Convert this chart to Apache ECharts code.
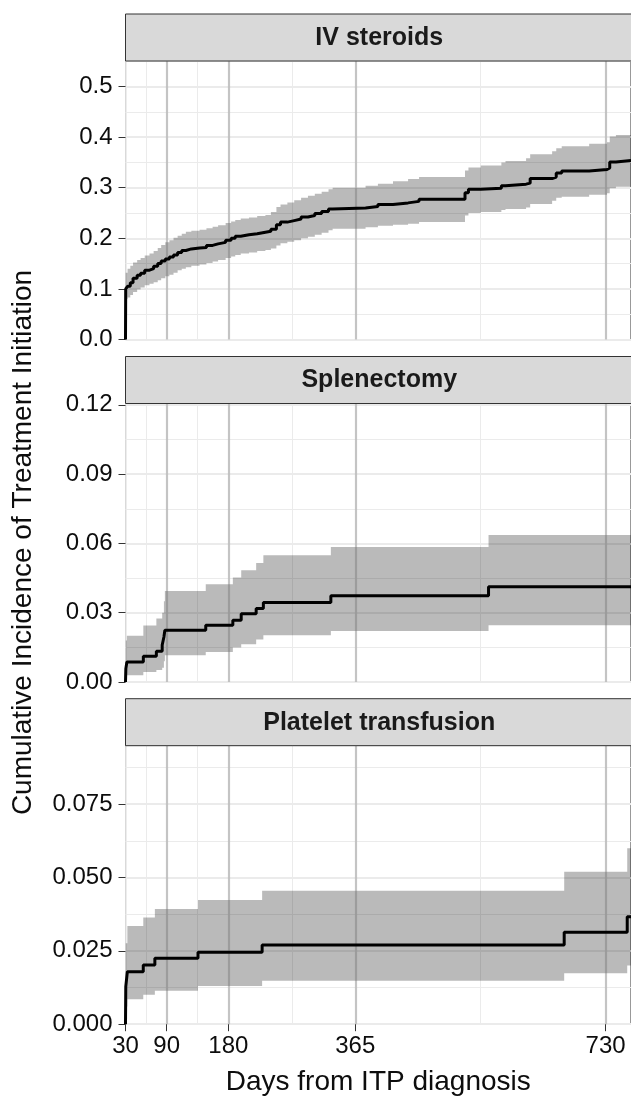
<!DOCTYPE html>
<html><head><meta charset="utf-8">
<script src="https://cdn.jsdelivr.net/npm/echarts@6/dist/echarts.min.js"></script>
<style>html,body{margin:0;padding:0;background:#fff}#c{width:631px;height:1098px}</style>
</head><body><div id="c"></div>
<script>
// ---------- data ----------
const panelTitles = ['IV steroids', 'Splenectomy', 'Platelet transfusion'];
const xBreaks = [30, 90, 180, 365, 730];
const xMinorBreaks = [60, 135, 272.5, 547.5];
const vlineDays = [90, 180, 365, 730];

const yBreaksIV = [0, 0.1, 0.2, 0.3, 0.4, 0.5];
const yMinorIV = [0.05, 0.15, 0.25, 0.35, 0.45, 0.55];
const yBreaksSp = [0, 0.03, 0.06, 0.09, 0.12];
const yMinorSp = [0.015, 0.045, 0.075, 0.105];
const yBreaksPl = [0, 0.025, 0.05, 0.075];
const yMinorPl = [0.0125, 0.0375, 0.0625, 0.0875];

// IV steroids
const ivDays = [30, 30.3, 33, 37, 41, 47, 52, 58, 65, 71, 77, 82, 88, 94, 100, 106, 112, 118, 126, 138, 148, 157, 165, 176, 184, 190, 198, 210, 222, 234, 242, 250, 256, 266, 276, 286, 296, 306, 316, 326, 332, 380, 398, 420, 442, 458, 525, 530, 548, 578, 584, 614, 620, 652, 658, 666, 706, 732, 736, 745, 767];
const ivEst = [0, 0.100, 0.105, 0.112, 0.121, 0.127, 0.131, 0.137, 0.140, 0.145, 0.150, 0.155, 0.159, 0.163, 0.167, 0.172, 0.176, 0.179, 0.181, 0.182, 0.186, 0.189, 0.192, 0.196, 0.200, 0.204, 0.207, 0.209, 0.212, 0.214, 0.218, 0.227, 0.232, 0.235, 0.238, 0.242, 0.245, 0.249, 0.253, 0.258, 0.260, 0.263, 0.267, 0.270, 0.273, 0.277, 0.290, 0.297, 0.299, 0.304, 0.307, 0.309, 0.318, 0.321, 0.329, 0.333, 0.336, 0.339, 0.351, 0.354, 0.354];
const ivLo = [0, 0.080, 0.083, 0.088, 0.094, 0.099, 0.103, 0.107, 0.110, 0.113, 0.117, 0.121, 0.125, 0.128, 0.132, 0.137, 0.140, 0.143, 0.146, 0.148, 0.151, 0.154, 0.157, 0.161, 0.164, 0.167, 0.170, 0.172, 0.175, 0.177, 0.180, 0.186, 0.190, 0.193, 0.196, 0.200, 0.203, 0.207, 0.211, 0.216, 0.219, 0.222, 0.225, 0.227, 0.229, 0.232, 0.245, 0.250, 0.252, 0.256, 0.258, 0.261, 0.268, 0.274, 0.280, 0.282, 0.286, 0.289, 0.299, 0.302, 0.302];
const ivHi = [0, 0.132, 0.140, 0.146, 0.152, 0.157, 0.161, 0.166, 0.170, 0.175, 0.181, 0.187, 0.192, 0.196, 0.201, 0.205, 0.209, 0.213, 0.215, 0.217, 0.220, 0.223, 0.226, 0.230, 0.233, 0.236, 0.239, 0.241, 0.244, 0.246, 0.252, 0.262, 0.267, 0.271, 0.275, 0.280, 0.284, 0.288, 0.292, 0.297, 0.300, 0.304, 0.308, 0.313, 0.317, 0.321, 0.334, 0.340, 0.344, 0.350, 0.353, 0.358, 0.366, 0.372, 0.378, 0.382, 0.387, 0.390, 0.401, 0.404, 0.404];

// Splenectomy
const spDays = [30, 30.5, 32, 56, 75, 83.5, 86, 87.4, 147, 186.5, 198.7, 220.5, 231, 329.4, 559.3, 767];
const spEst = [0, 0.0058, 0.0087, 0.0111, 0.0133, 0.0160, 0.0195, 0.0224, 0.0246, 0.0267, 0.0296, 0.0318, 0.0344, 0.0373, 0.0412, 0.0412];
const spLo = [0, 0.0025, 0.0029, 0.0043, 0.0052, 0.0062, 0.0090, 0.0116, 0.0130, 0.0149, 0.0163, 0.0184, 0.0202, 0.0221, 0.0246, 0.0246];
const spHi = [0, 0.0180, 0.0200, 0.0245, 0.0275, 0.0300, 0.0350, 0.0394, 0.0423, 0.0452, 0.0484, 0.0515, 0.0549, 0.0585, 0.0636, 0.0636];

// Platelet transfusion
const plDays = [30, 30.4, 32.7, 55.9, 72.8, 135.7, 229.2, 669.6, 761.5, 767];
const plEst = [0, 0.0128, 0.0179, 0.0202, 0.0225, 0.0245, 0.0270, 0.0313, 0.0366, 0.0366];
const plLo = [0, 0.0060, 0.0085, 0.0100, 0.0114, 0.0130, 0.0148, 0.0174, 0.0200, 0.0200];
const plHi = [0, 0.0276, 0.0335, 0.0364, 0.0393, 0.0423, 0.0455, 0.0520, 0.0600, 0.0600];

// ---------- layout ----------
const FONT = "'Liberation Sans', Arial, Helvetica, sans-serif";
const X_MIN = 30, X_MAX = 767;
const LEFT = 125.5;
const gridTops = [60.5, 403, 745.2];
const GRID_H = 279;
const STRIP_H = 47;
const yMaxes = [0.5514, 0.1208, 0.0951];
const yDecimals = [1, 2, 3];

const panels = [
  {days: ivDays, est: ivEst, lo: ivLo, hi: ivHi, br: yBreaksIV, mi: yMinorIV},
  {days: spDays, est: spEst, lo: spLo, hi: spHi, br: yBreaksSp, mi: yMinorSp},
  {days: plDays, est: plEst, lo: plLo, hi: plHi, br: yBreaksPl, mi: yMinorPl}
];

const grids = [], xAxes = [], yAxes = [], series = [], graphics = [];
const textColor = '#0d0d0d';
panels.forEach((p, i) => {
  grids.push({left: LEFT, right: -3, top: gridTops[i], height: GRID_H, show: true,
    borderColor: '#333', borderWidth: 1, backgroundColor: 'transparent'});
});
panels.forEach((p, i) => {
  const bottom = i === 2;
  xAxes.push({
    type: 'value', gridIndex: i, min: X_MIN, max: X_MAX, position: 'bottom',
    axisLine: {show: false},
    axisTick: {show: bottom, customValues: xBreaks, length: 7, lineStyle: {color: '#333', width: 1}},
    axisLabel: {show: bottom, customValues: xBreaks, fontSize: 24, fontFamily: FONT, color: textColor, margin: 10},
    splitLine: {show: true, lineStyle: {color: '#ebebeb', width: 1.8}},
    name: bottom ? 'Days from ITP diagnosis' : '',
    nameLocation: 'middle', nameGap: 44,
    nameTextStyle: {fontSize: 28, fontFamily: FONT, color: textColor}
  });
});
panels.forEach((p, i) => {
  xAxes.push({
    type: 'value', gridIndex: i, min: X_MIN, max: X_MAX, position: 'top',
    axisLine: {show: false}, axisTick: {show: false, customValues: xMinorBreaks},
    axisLabel: {show: false, customValues: xMinorBreaks},
    splitLine: {show: true, lineStyle: {color: '#ebebeb', width: 1}}
  });
});
panels.forEach((p, i) => {
  yAxes.push({
    type: 'value', gridIndex: i, min: 0, max: yMaxes[i], position: 'left',
    axisLine: {show: false},
    axisTick: {show: true, customValues: p.br, length: 7, lineStyle: {color: '#333', width: 1}},
    axisLabel: {customValues: p.br, fontSize: 24, fontFamily: FONT, color: textColor, margin: 13,
      formatter: (v) => Number(v).toFixed(yDecimals[i])},
    splitLine: {show: true, lineStyle: {color: '#ebebeb', width: 1.8}},
    name: i === 1 ? 'Cumulative Incidence of Treatment Initiation' : '',
    nameLocation: 'middle', nameGap: 88,
    nameTextStyle: {fontSize: 28, fontFamily: FONT, color: textColor}
  });
});
panels.forEach((p, i) => {
  yAxes.push({
    type: 'value', gridIndex: i, min: 0, max: yMaxes[i], position: 'left',
    axisLine: {show: false}, axisTick: {show: false, customValues: p.mi},
    axisLabel: {show: false, customValues: p.mi},
    splitLine: {show: true, lineStyle: {color: '#ebebeb', width: 1}}
  });
});

panels.forEach((p, i) => {
  // confidence band: one step polygon built through the axes' coordinate system
  series.push({
    type: 'custom', xAxisIndex: i, yAxisIndex: i, silent: true, z: 2, clip: true,
    data: p.days.map((d, k) => [d, p.lo[k], p.hi[k]]),
    encode: {x: 0, y: [1, 2]},
    renderItem: (params, api) => {
      if (params.dataIndex !== 0) return null;
      const n = p.days.length, pts = [];
      for (let k = 0; k < n; k++) {
        const x1 = k < n - 1 ? p.days[k + 1] : p.days[k];
        pts.push(api.coord([p.days[k], p.hi[k]]));
        pts.push(api.coord([x1, p.hi[k]]));
      }
      for (let k = n - 1; k >= 0; k--) {
        const x1 = k < n - 1 ? p.days[k + 1] : p.days[k];
        pts.push(api.coord([x1, p.lo[k]]));
        pts.push(api.coord([p.days[k], p.lo[k]]));
      }
      return {type: 'polygon', shape: {points: pts}, style: {fill: 'rgba(0,0,0,0.27)'}};
    }
  });
  series.push({
    type: 'line', xAxisIndex: i, yAxisIndex: i, data: p.days.map((d, k) => [d, p.est[k]]), step: 'end',
    symbol: 'none', lineStyle: {color: '#000', width: 3}, silent: true, z: 4,
    markLine: {
      silent: true, symbol: ['none', 'none'], z: 3, animation: false,
      label: {show: false},
      lineStyle: {color: 'rgba(128,128,128,0.38)', width: 2.2, type: 'solid'},
      emphasis: {disabled: true},
      data: vlineDays.map(d => ({xAxis: d}))
    }
  });
  const st = gridTops[i] - STRIP_H;
  graphics.push({type: 'rect', shape: {x: LEFT, y: st + 0.5, width: 600, height: STRIP_H},
    style: {fill: '#d9d9d9', stroke: '#333', lineWidth: 1}, z: 10});
  graphics.push({type: 'text', x: (LEFT + 633) / 2, y: st + STRIP_H / 2 + 1,
    style: {text: panelTitles[i], font: 'bold 25px ' + FONT, fill: '#1a1a1a',
      align: 'center', verticalAlign: 'middle'}, z: 11});
});

const chart = echarts.init(document.getElementById('c'), null, {renderer: 'canvas'});
chart.setOption({
  animation: false,
  backgroundColor: '#fff',
  grid: grids, xAxis: xAxes, yAxis: yAxes, series: series, graphic: graphics
});
</script></body></html>
